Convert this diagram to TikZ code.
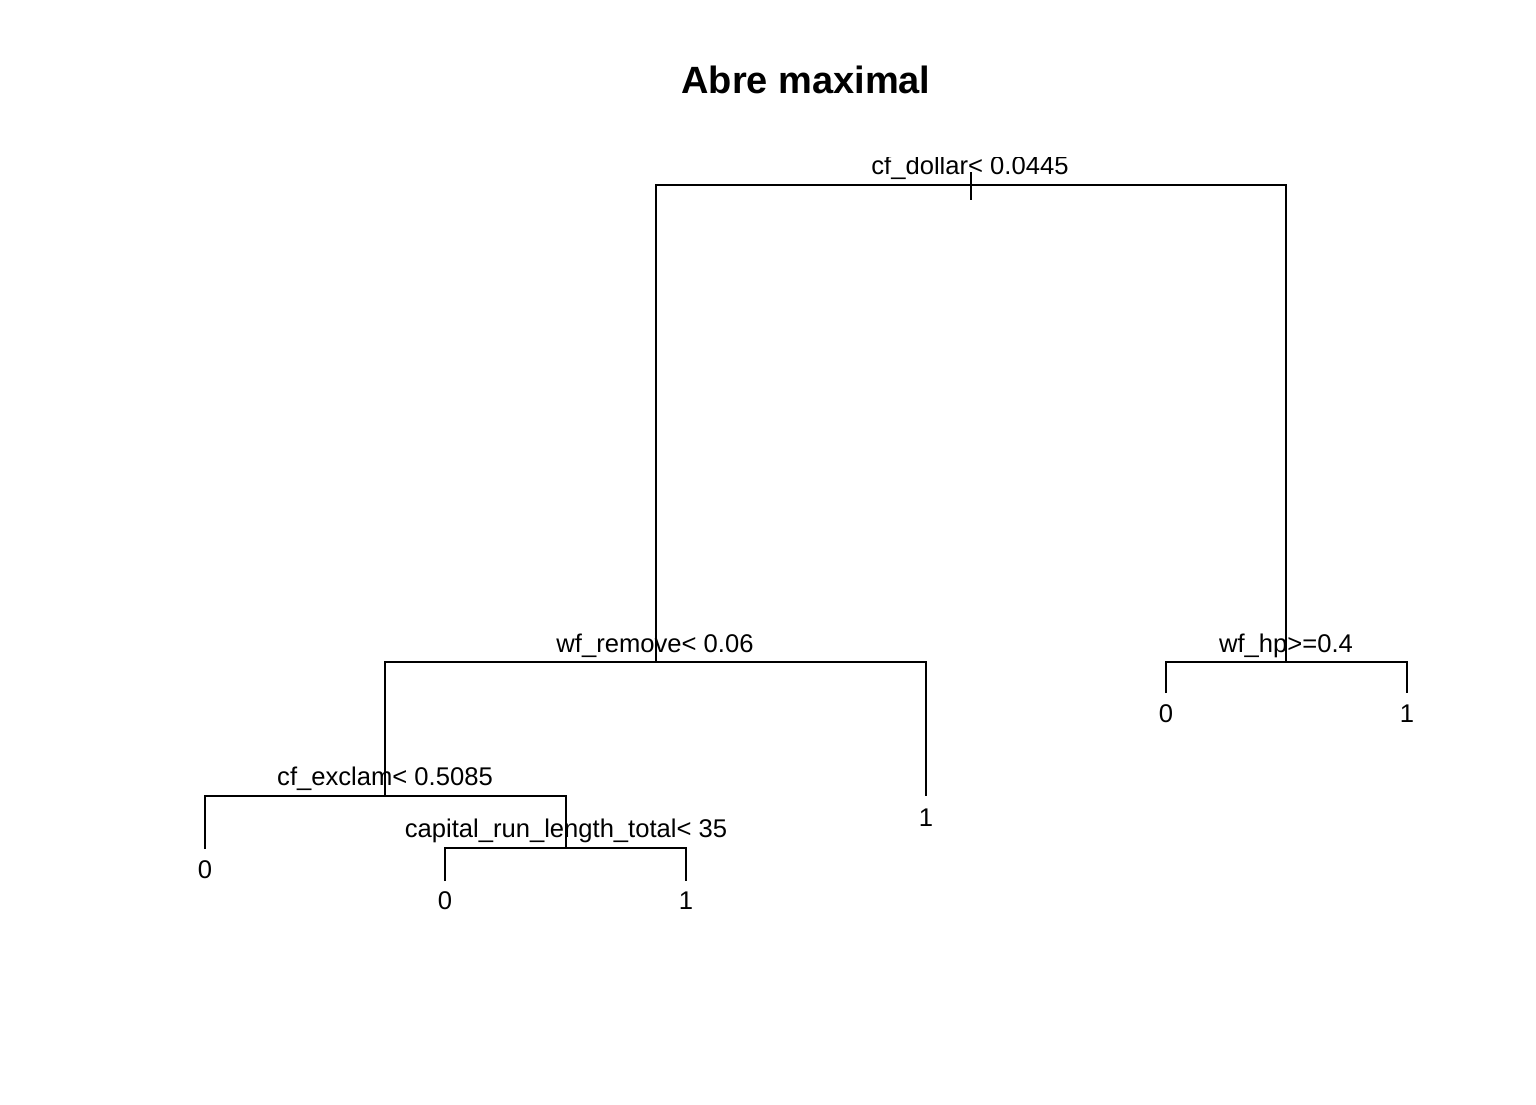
\documentclass[tikz,border=0pt]{standalone}
\usepackage{fontspec}
\setmainfont{Liberation Sans}
\begin{document}
\begin{tikzpicture}[x=0.5pt,y=-0.5pt,
  edge/.style={draw=black,line width=1pt},
  splitlab/.style={anchor=base,inner sep=0pt,font=\fontsize{12.8}{15}\selectfont},
  leaflab/.style={anchor=base,inner sep=0pt,font=\fontsize{12.8}{15}\selectfont},
  titlelab/.style={anchor=base,inner sep=0pt,font=\fontsize{19}{22}\selectfont\bfseries}]
\useasboundingbox (0,0) rectangle (1536,1104);
\node[titlelab] (title) at (806,93) {Abre maximal};
% split points
\coordinate (r) at (971,185);
\coordinate (rL) at (656,185);
\coordinate (rR) at (1286,185);
\coordinate (a) at (656,662);
\coordinate (aL) at (385,662);
\coordinate (aR) at (926,662);
\coordinate (b) at (1286,662);
\coordinate (bL) at (1166,662);
\coordinate (bR) at (1407,662);
\coordinate (c) at (385,796);
\coordinate (cL) at (205,796);
\coordinate (cR) at (566,796);
\coordinate (d) at (566,848);
\coordinate (dL) at (445,848);
\coordinate (dR) at (686,848);
% leaf ends
\coordinate (la) at (926,796);
\coordinate (lb0) at (1166,693);
\coordinate (lb1) at (1407,693);
\coordinate (lc0) at (205,849);
\coordinate (ld0) at (445,881);
\coordinate (ld1) at (686,881);
\coordinate (tickT) at (971,172);
\coordinate (tickB) at (971,200);
% edges
\draw[edge] (a) -- (rL) -- (rR) -- (b);
\draw[edge] (tickT) -- (tickB);
\draw[edge] (c) -- (aL) -- (aR) -- (la);
\draw[edge] (lb0) -- (bL) -- (bR) -- (lb1);
\draw[edge] (lc0) -- (cL) -- (cR) -- (d);
\draw[edge] (ld0) -- (dL) -- (dR) -- (ld1);
% labels
\begin{scope}
\clip (700,157.5) rectangle (1250,200);
\node[splitlab] (rlab) at (970,174) {cf\_dollar< 0.0445};
\end{scope}
\node[splitlab] (alab) at (655,652) {wf\_remove< 0.06};
\node[splitlab] (blab) at (1286,652) {wf\_hp>=0.4};
\node[splitlab] (clab) at (385,785) {cf\_exclam< 0.5085};
\node[splitlab] (dlab) at (566,837) {capital\_run\_length\_total< 35};
\node[leaflab] (leafa) at (926,826) {1};
\node[leaflab] (leafb0) at (1166,722) {0};
\node[leaflab] (leafb1) at (1407,722) {1};
\node[leaflab] (leafc0) at (205,878) {0};
\node[leaflab] (leafd0) at (445,909) {0};
\node[leaflab] (leafd1) at (686,909) {1};
\end{tikzpicture}
\end{document}
